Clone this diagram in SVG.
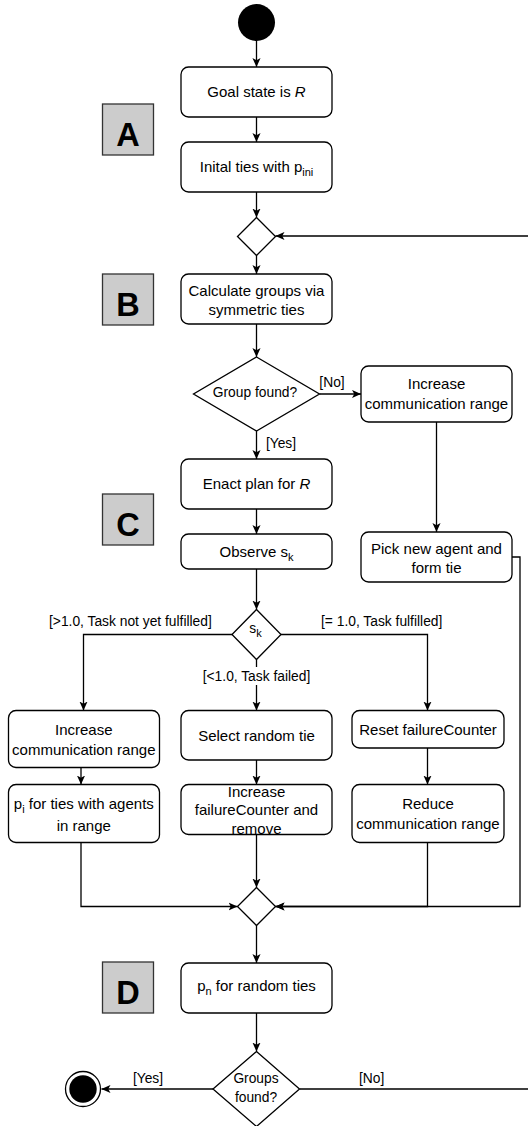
<svg xmlns="http://www.w3.org/2000/svg" width="528" height="1126" viewBox="0 0 528 1126">
<style>
.n{fill:#fff;stroke:#000;stroke-width:1.3}
.t{font-family:"Liberation Sans",Arial,sans-serif;font-size:15px;fill:#000;text-anchor:middle}
.s{font-family:"Liberation Sans",Arial,sans-serif;font-size:13.8px;fill:#000;text-anchor:middle}
.lab{fill:#ccc;stroke:#333;stroke-width:1.3}
.big{font-family:"Liberation Sans",Arial,sans-serif;font-size:32.5px;font-weight:bold;fill:#000;text-anchor:middle}
.e{fill:none;stroke:#000;stroke-width:1.3}
</style>
<defs>
<marker id="ar" viewBox="0 0 10 10" refX="10" refY="5" markerWidth="9" markerHeight="9" markerUnits="userSpaceOnUse" orient="auto">
<path d="M0,0.5 L10,5 L0,9.5 L2.5,5 Z" fill="#000"/>
</marker>
</defs>
<rect width="528" height="1126" fill="#fff"/>

<g id="labels">
<g id="labelA"><rect class="lab" x="102.5" y="104" width="51" height="51"/><text class="big" x="128" y="146">A</text></g>
<g id="labelB"><rect class="lab" x="102.5" y="274" width="51" height="51"/><text class="big" x="128" y="316">B</text></g>
<g id="labelC"><rect class="lab" x="102.5" y="494" width="51" height="51"/><text class="big" x="128" y="536">C</text></g>
<g id="labelD"><rect class="lab" x="102.5" y="962" width="51" height="51"/><text class="big" x="128" y="1004">D</text></g>
</g>

<g id="connectors">
<path class="e" marker-end="url(#ar)" d="M256.5,41 L256.5,67"/>
<path class="e" marker-end="url(#ar)" d="M256.5,117 L256.5,142"/>
<path class="e" marker-end="url(#ar)" d="M256.5,192 L256.5,217.5"/>
<path class="e" marker-end="url(#ar)" d="M256.5,255.5 L256.5,274"/>
<path class="e" marker-end="url(#ar)" d="M256.5,324 L256.5,357"/>
<path class="e" marker-end="url(#ar)" d="M319.5,394 L361,394"/>
<path class="e" marker-end="url(#ar)" d="M256.5,431 L256.5,459"/>
<path class="e" marker-end="url(#ar)" d="M256.5,509 L256.5,534"/>
<path class="e" marker-end="url(#ar)" d="M256.5,569 L256.5,609.5"/>
<path class="e" marker-end="url(#ar)" d="M436.5,422 L436.5,532"/>
<path class="e" marker-end="url(#ar)" d="M512,557 L520,557 L520,906.5 L275.5,906.5"/>
<path class="e" marker-end="url(#ar)" d="M232,634.5 L83.5,634.5 L83.5,710.5"/>
<path class="e" marker-end="url(#ar)" d="M256.5,659.5 L256.5,710.5"/>
<path class="e" marker-end="url(#ar)" d="M281,634.5 L427.5,634.5 L427.5,710.5"/>
<path class="e" marker-end="url(#ar)" d="M81,767.5 L81,784.5"/>
<path class="e" marker-end="url(#ar)" d="M256.5,760 L256.5,784.5"/>
<path class="e" marker-end="url(#ar)" d="M427.5,748 L427.5,784.5"/>
<path class="e" marker-end="url(#ar)" d="M81,842.5 L81,906.5 L237.5,906.5"/>
<path class="e" marker-end="url(#ar)" d="M256.5,834.5 L256.5,887.5"/>
<path class="e" marker-end="url(#ar)" d="M427.5,842.5 L427.5,906.5 L275.5,906.5"/>
<path class="e" marker-end="url(#ar)" d="M256.5,925.5 L256.5,963"/>
<path class="e" marker-end="url(#ar)" d="M256.5,1013 L256.5,1051.5"/>
<path class="e" marker-end="url(#ar)" d="M213,1089 L101.5,1089"/>
<path class="e" marker-end="url(#ar)" d="M299.5,1089 L531,1089 L531,236 L275.5,236"/>
<text class="s" x="332" y="387">[No]</text>
<text class="s" x="281" y="448">[Yes]</text>
<text class="s" x="130.4" y="626">[&gt;1.0, Task not yet fulfilled]</text>
<text class="s" x="381.7" y="626">[= 1.0, Task fulfilled]</text>
<rect x="201" y="667" width="111" height="18" fill="#fff"/>
<text class="s" x="256.5" y="680.7">[&lt;1.0, Task failed]</text>
<text class="s" x="148" y="1082.5">[Yes]</text>
<text class="s" x="371.7" y="1082.5">[No]</text>
</g>

<g id="start"><circle cx="256.5" cy="22.5" r="18.5" fill="#000"/></g>
<g id="goal"><rect class="n" x="181" y="67" width="151" height="50" rx="7.5"/><text class="t" x="256.5" y="97">Goal state is <tspan font-style="italic">R</tspan></text></g>
<g id="initial"><rect class="n" x="181" y="142" width="151" height="50" rx="7.5"/><text class="t" x="256.5" y="172">Inital ties with p<tspan dy="4" font-size="11">ini</tspan></text></g>
<g id="merge1"><path class="n" d="M256.5,217.5 L275.5,236.5 L256.5,255.5 L237.5,236.5 Z"/></g>
<g id="calc"><rect class="n" x="181" y="274" width="151" height="50" rx="7.5"/><text class="t" x="256.5" y="296">Calculate groups via</text><text class="t" x="256.5" y="314.5">symmetric ties</text></g>
<g id="groupFound"><path class="n" d="M256.5,357 L319.5,394 L256.5,431 L193.5,394 Z"/><text class="s" x="255" y="396.5">Group found?</text></g>
<g id="incRange1"><rect class="n" x="361" y="366" width="151" height="56" rx="7.5"/><text class="t" x="436.5" y="389">Increase</text><text class="t" x="436.5" y="408.5">communication range</text></g>
<g id="enact"><rect class="n" x="181" y="459" width="151" height="50" rx="7.5"/><text class="t" x="256.5" y="489">Enact plan for <tspan font-style="italic">R</tspan></text></g>
<g id="observe"><rect class="n" x="181" y="534" width="151" height="35" rx="7.5"/><text class="t" x="256.5" y="557">Observe s<tspan dy="4" font-size="11">k</tspan></text></g>
<g id="pick"><rect class="n" x="361" y="532" width="151" height="50" rx="7.5"/><text class="t" x="436.5" y="553.5">Pick new agent and</text><text class="t" x="436.5" y="572.5">form tie</text></g>
<g id="sk"><path class="n" d="M256.5,609.5 L281,634.5 L256.5,659.5 L232,634.5 Z"/><text class="s" x="255.5" y="633">s<tspan dy="4" font-size="11">k</tspan></text></g>
<g id="incRange2"><rect class="n" x="8.5" y="710.5" width="151" height="57" rx="7.5"/><text class="t" x="83.8" y="735">Increase</text><text class="t" x="83.8" y="754.5">communication range</text></g>
<g id="selectTie"><rect class="n" x="181" y="710.5" width="151" height="49.5" rx="7.5"/><text class="t" x="256.5" y="741">Select random tie</text></g>
<g id="reset"><rect class="n" x="352" y="710.5" width="152" height="37.5" rx="7.5"/><text class="t" x="428" y="734.5">Reset failureCounter</text></g>
<g id="pi"><rect class="n" x="8.5" y="784.5" width="151" height="58" rx="7.5"/><text class="t" x="83.8" y="809">p<tspan dy="4" font-size="11">i</tspan><tspan dy="-4"> for ties with agents</tspan></text><text class="t" x="83.8" y="830.5">in range</text></g>
<g id="incFail"><rect class="n" x="181" y="784.5" width="151" height="50" rx="7.5"/><text class="t" x="256.5" y="797">Increase</text><text class="t" x="256.5" y="814.5">failureCounter and</text><text class="t" x="256.5" y="834">remove</text></g>
<g id="reduce"><rect class="n" x="352" y="784.5" width="152" height="58" rx="7.5"/><text class="t" x="428" y="809">Reduce</text><text class="t" x="428" y="829">communication range</text></g>
<g id="merge2"><path class="n" d="M256.5,887.5 L275.5,906.5 L256.5,925.5 L237.5,906.5 Z"/></g>
<g id="pn"><rect class="n" x="181" y="963" width="151" height="50" rx="7.5"/><text class="t" x="256.5" y="991">p<tspan dy="4" font-size="11">n</tspan><tspan dy="-4"> for random ties</tspan></text></g>
<g id="groupsFound"><path class="n" d="M256.5,1051.5 L299.5,1089 L256.5,1126.5 L213,1089 Z"/><text class="s" x="256" y="1082.5">Groups</text><text class="s" x="256" y="1101.5">found?</text></g>
<g id="end"><circle cx="83" cy="1089" r="17.5" fill="#fff" stroke="#000" stroke-width="1.3"/><circle cx="83" cy="1089" r="13.7" fill="#000"/></g>
</svg>
